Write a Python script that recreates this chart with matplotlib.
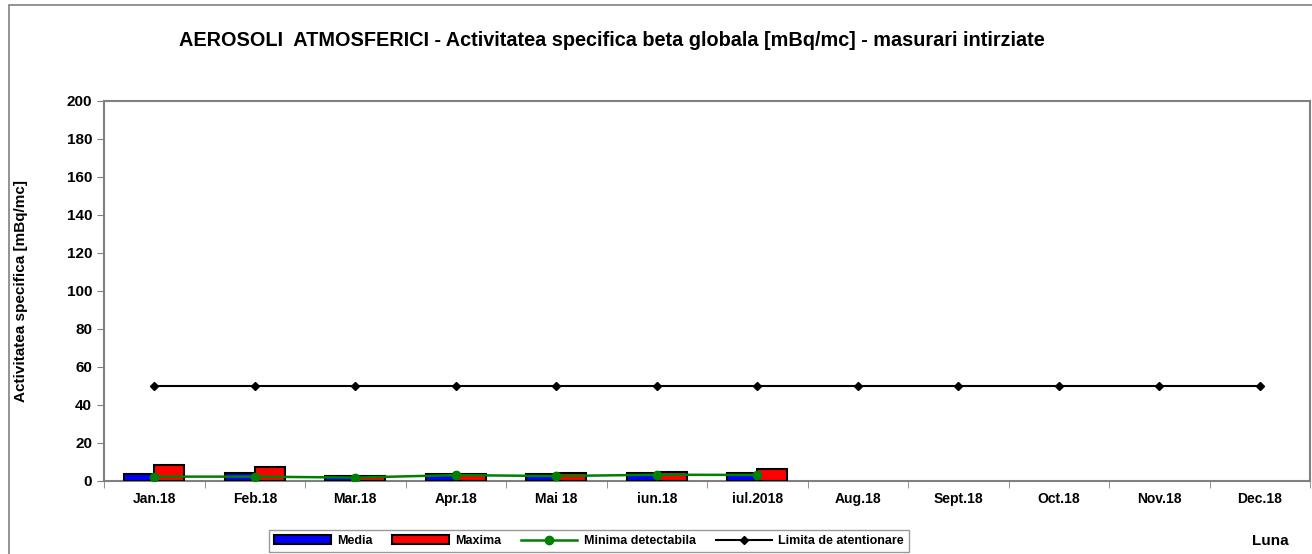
import numpy as np
import matplotlib
matplotlib.use("Agg")
import matplotlib.pyplot as plt
from matplotlib.patches import Rectangle

# Date
luni = ['Jan.18', 'Feb.18', 'Mar.18', 'Apr.18', 'Mai 18', 'iun.18', 'iul.2018',
        'Aug.18', 'Sept.18', 'Oct.18', 'Nov.18', 'Dec.18']
media = [3.8, 4.2, 2.8, 3.6, 3.6, 4.0, 4.2]
maxima = [8.2, 7.6, 2.8, 3.8, 4.2, 4.6, 6.5]
minima_detectabila = [2.3, 2.3, 1.8, 3.1, 2.6, 3.3, 3.2]
limita_atentionare = [50] * 12

plt.rcParams['font.family'] = ['Liberation Sans', 'DejaVu Sans']

fig = plt.figure(figsize=(13.12, 5.54), dpi=100)
W, H = 1312, 554
ax = fig.add_axes([104 / W, 1 - 481 / H, (1310 - 104) / W, (481 - 101) / H])

# chenar exterior
fig.patches.append(Rectangle((9 / W, -0.1), 1.2, 1 - 5 / H + 0.1, transform=fig.transFigure,
                             fill=False, edgecolor='#808080', linewidth=1.2))

x = np.arange(len(luni))
xm = np.arange(len(media))
lat = 0.3
b1 = ax.bar(xm - lat / 2, media, width=lat, color='#0000ff', edgecolor='black', linewidth=1.5,
            label='Media', zorder=3)
b2 = ax.bar(xm + lat / 2, maxima, width=lat, color='#ff0000', edgecolor='black', linewidth=1.5,
            label='Maxima', zorder=3)
l1, = ax.plot(xm, minima_detectabila, color='#008000', marker='o', markersize=6, linewidth=1.8,
              label='Minima detectabila', zorder=4)
l2, = ax.plot(x, limita_atentionare, color='black', marker='D', markersize=4.5, linewidth=1.5,
              label='Limita de atentionare', zorder=4)

ax.set_xlim(-0.5, len(luni) - 0.5)
ax.set_ylim(0, 200)
ax.set_yticks(range(0, 201, 20))
ax.set_xticks(x)
ax.set_xticklabels(luni, fontsize=10, fontweight='bold')
ax.set_xticks(np.arange(-0.5, len(luni), 1), minor=True)
ax.tick_params(axis='x', which='major', length=0, pad=8)
ax.tick_params(axis='x', which='minor', length=5, direction='out', color='#808080')
ax.tick_params(axis='y', length=5, direction='out', color='#808080', labelsize=11)
for lbl in ax.get_yticklabels():
    lbl.set_fontweight('bold')
for s in ax.spines.values():
    s.set_color('#808080')
    s.set_linewidth(1.5)

ax.set_ylabel('Activitatea specifica [mBq/mc]', fontsize=11, fontweight='bold', labelpad=28)
fig.text(612 / W, 1 - 40 / H,
         'AEROSOLI  ATMOSFERICI - Activitatea specifica beta globala [mBq/mc] - masurari intirziate',
         ha='center', va='center', fontsize=14.3, fontweight='bold')
fig.text(1270 / W, 1 - 541 / H, 'Luna', ha='center', va='center', fontsize=11, fontweight='bold')

leg = fig.legend(handles=[b1, b2, l1, l2], loc='center', bbox_to_anchor=(589 / W, 1 - 541 / H),
                 ncol=4, frameon=True, fancybox=False, edgecolor='#808080', handlelength=4.5,
                 columnspacing=1.6, handletextpad=0.5, borderpad=0.4,
                 prop={'weight': 'bold', 'size': 9,
                       'family': ['Liberation Sans Narrow', 'Liberation Sans']})
leg.get_frame().set_linewidth(1.0)

fig.savefig('out.png', dpi=100)
